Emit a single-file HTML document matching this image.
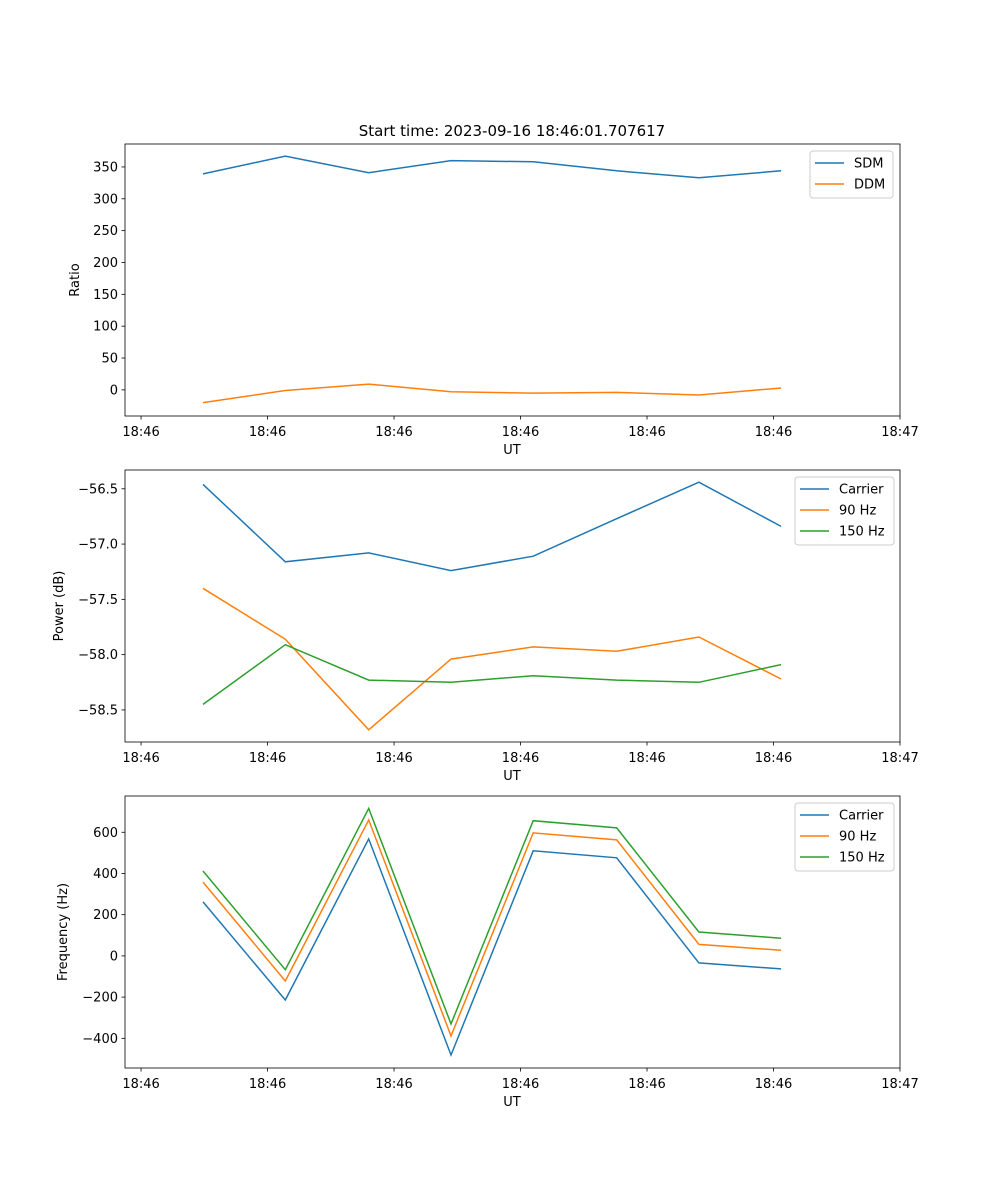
<!DOCTYPE html>
<html><head><meta charset="utf-8"><style>
body{margin:0;background:#fff;font-family:"DejaVu Sans","Liberation Sans",sans-serif;}
svg text{font-family:"DejaVu Sans","Liberation Sans",sans-serif;font-size:13px;fill:#000;}
</style></head><body>
<svg id="fig" width="1000" height="1200" xmlns="http://www.w3.org/2000/svg">
<rect width="1000" height="1200" fill="#fff"/>
<text x="512" y="136" text-anchor="middle" style="font-size:15px">Start time: 2023-09-16 18:46:01.707617</text>
</svg>
<script>
const times=[4.9,11.4,18.0,24.5,31.0,37.6,44.1,50.6];
const xTicks=[0,10,20,30,40,50,60];
const xTickLabels=["18:46","18:46","18:46","18:46","18:46","18:46","18:47"];
const sdm=[339,367,341,360,358,344,333,344];
const ddm=[-20,-1,9,-3,-5,-4,-8,3];
const powCarrier=[-56.46,-57.16,-57.08,-57.24,-57.11,-56.77,-56.44,-56.84];
const pow90=[-57.40,-57.86,-58.68,-58.04,-57.93,-57.97,-57.84,-58.22];
const pow150=[-58.45,-57.91,-58.23,-58.25,-58.19,-58.23,-58.25,-58.09];
const freqCarrier=[262,-214,568,-481,510,476,-34,-63];
const freq90=[358,-122,660,-388,597,563,56,27];
const freq150=[412,-67,716,-330,656,621,116,86];
const ratioTicks=[0,50,100,150,200,250,300,350];
const powTicks=[-58.5,-58.0,-57.5,-57.0,-56.5];
const freqTicks=[-400,-200,0,200,400,600];

const NS="http://www.w3.org/2000/svg";
const svg=document.getElementById('fig');
const C=["#1f77b4","#ff7f0e","#2ca02c"];
function mk(tag,attrs,parent){const e=document.createElementNS(NS,tag);for(const k in attrs)e.setAttribute(k,attrs[k]);(parent||svg).appendChild(e);return e;}
const L=125,R=900,xmin=-1.27,xmax=60;
function xs(t){return L+(t-xmin)/(xmax-xmin)*(R-L);}
function panel(name,top,bot,ymin,ymax,yticks,fmt,ylabel,series,labels,legW,legX){
  const g=mk('g',{});
  
  
  const ys=v=>bot-(v-ymin)/(ymax-ymin)*(bot-top);
  series.forEach((s,i)=>{
    const p=mk('polyline',{points:s.map((v,j)=>xs(times[j]).toFixed(1)+','+ys(v).toFixed(1)).join(' '),fill:'none',stroke:C[i],'stroke-width':1.5},g);
    
    
  });
  mk('rect',{x:L,y:top,width:R-L,height:bot-top,fill:'none',stroke:'#000','stroke-width':0.8},g);
  xTicks.forEach((t,i)=>{const x=xs(t);mk('line',{x1:x,x2:x,y1:bot,y2:bot+3.5,stroke:'#000','stroke-width':0.8},g);
    const tx=mk('text',{x:x,y:bot+20,'text-anchor':'middle'},g);tx.textContent=xTickLabels[i];
    
    });
  yticks.forEach(v=>{const y=ys(v);mk('line',{x1:L-3.5,x2:L,y1:y,y2:y,stroke:'#000','stroke-width':0.8},g);
    const tx=mk('text',{x:L-7,y:y+4.5,'text-anchor':'end'},g);tx.textContent=fmt(v);
    
    });
  const xl=mk('text',{x:512,y:bot+38,'text-anchor':'middle'},g);xl.textContent='UT';
  
  
  const yc=(top+bot)/2;
  const yl=mk('text',{x:0,y:0,'text-anchor':'middle',transform:`translate(${ylabel[1]},${yc}) rotate(-90)`},g);yl.textContent=ylabel[0];
  
  
  const lg=mk('g',{},g);
  
  
  mk('rect',{x:legX,y:top+7,width:legW,height:labels.length*21+5,rx:3,fill:'#fff',stroke:'#ccc','stroke-width':1},lg);
  labels.forEach((lb,i)=>{const y=top+19+i*21;
    mk('line',{x1:legX+5,x2:legX+34,y1:y,y2:y,stroke:C[i],'stroke-width':1.5},lg);
    const t=mk('text',{x:legX+44,y:y+4.5},lg);t.textContent=lb;
    
    });
}
panel('ratio',144,416,-41,386,ratioTicks,v=>String(v),['Ratio',79],[sdm,ddm],['SDM','DDM'],83,810);
panel('power',470,742,-58.79,-56.33,powTicks,v=>'\u2212'+Math.abs(v).toFixed(1),['Power (dB)',63],[powCarrier,pow90,pow150],['Carrier','90 Hz','150 Hz'],99,795);
panel('frequency',796,1068,-544,776,freqTicks,v=>v<0?'\u2212'+Math.abs(v):String(v),['Frequency (Hz)',67],[freqCarrier,freq90,freq150],['Carrier','90 Hz','150 Hz'],99,795);
</script>
</body></html>
